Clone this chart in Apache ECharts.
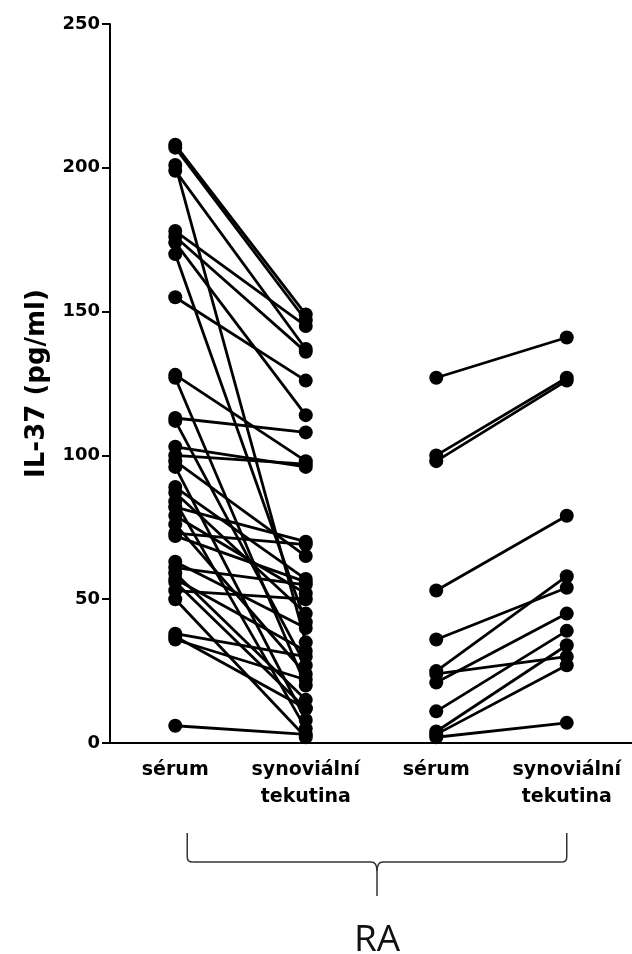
<!DOCTYPE html>
<html>
<head>
<meta charset="utf-8">
<script src="https://cdn.jsdelivr.net/npm/echarts@6/dist/echarts.min.js"></script>
<style>
  html, body { margin: 0; padding: 0; background: #fff; }
  #chart { width: 632px; height: 954px; }
</style>
</head>
<body>
<div id="chart"></div>
<script>
const categories = ['sérum', 'synoviální\ntekutina', 'sérum', 'synoviální\ntekutina'];
const yTitle = 'IL-37 (pg/ml)';
const groupLabel = 'RA';

// first pair of columns: serum -> synovial fluid, one entry per patient
const serumA = [208, 207, 201, 199, 178, 176, 174, 170, 155, 128, 127, 113, 112, 103, 100, 98, 96, 89,
  87, 84, 82, 79, 76, 73, 72, 63, 61, 59, 57, 56, 53, 50, 38, 37, 36, 6];
const synovA = [149, 147, 35, 137, 145, 136, 114, 42, 126, 98, 20, 108, 27, 96, 97, 65, 8, 57,
  45, 5, 70, 52, 24, 69, 56, 40, 55, 15, 32, 12, 50, 2, 30, 12, 22, 3];

// second pair of columns
const serumB = [127, 100, 98, 53, 36, 25, 24, 21, 11, 4, 3, 2];
const synovB = [141, 127, 126, 79, 54, 58, 30, 45, 39, 34, 27, 7];

const chart = echarts.init(document.getElementById('chart'));

function pairSeries(fromIdx, toIdx, a, b) {
  return a.map((v, i) => ({
    type: 'line',
    silent: true,
    animation: false,
    symbol: 'circle',
    symbolSize: 14,
    itemStyle: { color: '#000' },
    lineStyle: { color: '#000', width: 2.8 },
    data: [[fromIdx, v], [toIdx, b[i]]]
  }));
}

const series = [].concat(
  pairSeries(0, 1, serumA, synovA),
  pairSeries(2, 3, serumB, synovB)
);

chart.setOption({
  animation: false,
  grid: { left: 110, right: 0, top: 24, bottom: 211, outerBoundsMode: 'none' },
  xAxis: {
    type: 'category',
    data: categories,
    boundaryGap: true,
    axisLine: { lineStyle: { color: '#000', width: 2 } },
    axisTick: { alignWithLabel: true, length: 8, lineStyle: { color: '#000', width: 2 } },
    axisLabel: {
      color: '#000',
      fontFamily: 'DejaVu Sans',
      fontWeight: 'bold',
      fontSize: 19,
      lineHeight: 27,
      margin: 14,
      interval: 0
    }
  },
  yAxis: {
    type: 'value',
    min: 0,
    max: 250,
    interval: 50,
    name: yTitle,
    nameLocation: 'middle',
    nameRotate: 90,
    nameGap: 60,
    nameTextStyle: { color: '#000', fontFamily: 'DejaVu Sans', fontWeight: 'bold', fontSize: 26 },
    splitLine: { show: false },
    axisLine: { show: true, lineStyle: { color: '#000', width: 2 } },
    axisTick: { show: true, length: 8, lineStyle: { color: '#000', width: 2 } },
    axisLabel: { color: '#000', fontFamily: 'DejaVu Sans', fontWeight: 'bold', fontSize: 18, margin: 10 }
  },
  series: series
});

// brace under the category labels, placed from the axis positions
const left = chart.convertToPixel({ xAxisIndex: 0 }, 0) + 12;
const right = chart.convertToPixel({ xAxisIndex: 0 }, 3);
const mid = (left + right) / 2;
const yTop = 833, yH = 862, yTip = 896;
const braceStyle = { fill: null, stroke: '#333', lineWidth: 1.5 };

function seg(x1, y1, x2, y2) {
  return { type: 'line', silent: true, shape: { x1, y1, x2, y2 }, style: braceStyle };
}
function curve(x1, y1, cx, cy, x2, y2) {
  return { type: 'bezierCurve', silent: true,
    shape: { x1, y1, x2, y2, cpx1: cx, cpy1: cy }, style: braceStyle };
}

chart.setOption({
  graphic: [
    seg(left, yTop, left, yH - 5),
    curve(left, yH - 5, left, yH, left + 5, yH),
    seg(left + 5, yH, mid - 6, yH),
    curve(mid - 6, yH, mid, yH, mid, yH + 9),
    seg(mid, yH + 9, mid, yTip),
    curve(mid, yH + 9, mid, yH, mid + 6, yH),
    seg(mid + 6, yH, right - 5, yH),
    curve(right - 5, yH, right, yH, right, yH - 5),
    seg(right, yH - 5, right, yTop),
    {
      type: 'text',
      x: mid,
      y: 940,
      silent: true,
      style: {
        text: groupLabel,
        fill: '#111',
        font: '37px "Open Sans"',
        align: 'center',
        verticalAlign: 'middle'
      }
    }
  ]
});
</script>
</body>
</html>
